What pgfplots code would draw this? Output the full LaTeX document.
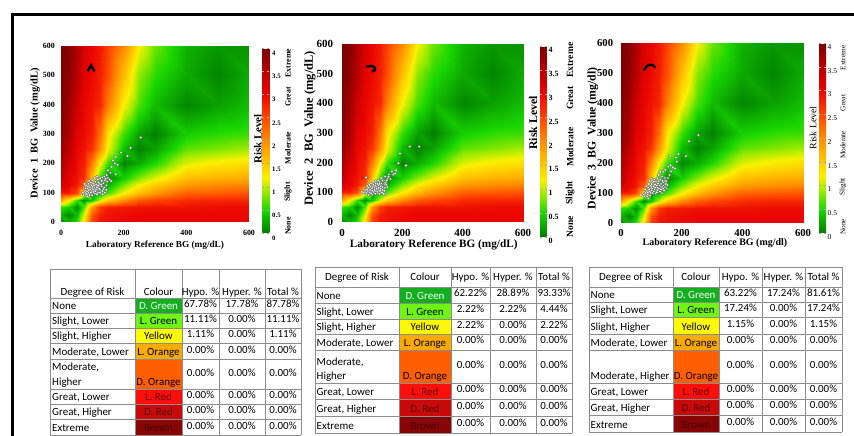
\documentclass[border=0pt]{standalone}
\usepackage{fontspec}
\setmainfont{Liberation Serif}
\newfontfamily\carl{Carlito}
\usepackage{pgfplots}
\usepackage{pgfplotstable}
\pgfplotsset{compat=1.18}

\definecolor{cDG}{RGB}{20,175,30}
\definecolor{cLG}{RGB}{110,245,20}
\definecolor{cY}{RGB}{255,250,0}
\definecolor{cLO}{RGB}{250,170,0}
\definecolor{cDO}{RGB}{255,95,0}
\definecolor{cLR}{RGB}{250,15,10}
\definecolor{cDR}{RGB}{200,10,10}
\definecolor{cBr}{RGB}{135,5,5}
\definecolor{gridc}{RGB}{140,140,140}

\pgfplotstableread[row sep=\\]{
x y r\\
0 0 0.10\\ 25 0 0.30\\ 50 0 0.55\\ 75 0 1.40\\ 100 0 2.60\\ 125 0 2.90\\ 150 0 2.95\\ 200 0 3.00\\ 250 0 3.00\\ 300 0 3.00\\ 400 0 3.00\\ 500 0 3.00\\ 600 0 3.00\\
0 25 0.30\\ 25 25 0.05\\ 50 25 0.35\\ 75 25 1.10\\ 100 25 2.40\\ 125 25 2.80\\ 150 25 2.90\\ 200 25 2.95\\ 250 25 3.00\\ 300 25 3.00\\ 400 25 3.00\\ 500 25 3.00\\ 600 25 3.00\\
0 50 0.60\\ 25 50 0.45\\ 50 50 0.05\\ 75 50 0.70\\ 100 50 1.90\\ 125 50 2.60\\ 150 50 2.80\\ 200 50 2.85\\ 250 50 2.90\\ 300 50 2.90\\ 400 50 2.90\\ 500 50 2.95\\ 600 50 2.95\\
0 75 1.80\\ 25 75 1.20\\ 50 75 0.60\\ 75 75 0.05\\ 100 75 0.40\\ 125 75 1.00\\ 150 75 1.50\\ 200 75 2.00\\ 250 75 2.35\\ 300 75 2.50\\ 400 75 2.70\\ 500 75 2.75\\ 600 75 2.75\\
0 100 2.80\\ 25 100 2.80\\ 50 100 2.50\\ 75 100 1.30\\ 100 100 0.05\\ 125 100 0.35\\ 150 100 0.65\\ 200 100 1.20\\ 250 100 1.60\\ 300 100 1.90\\ 400 100 2.30\\ 500 100 2.35\\ 600 100 2.40\\
0 125 3.20\\ 25 125 3.00\\ 50 125 2.85\\ 75 125 2.30\\ 100 125 0.90\\ 125 125 0.05\\ 150 125 0.30\\ 200 125 0.80\\ 250 125 1.20\\ 300 125 1.50\\ 400 125 1.90\\ 500 125 2.00\\ 600 125 2.05\\
0 150 3.45\\ 25 150 3.05\\ 50 150 2.90\\ 75 150 2.70\\ 100 150 1.60\\ 125 150 0.60\\ 150 150 0.05\\ 200 150 0.45\\ 250 150 0.80\\ 300 150 1.10\\ 400 150 1.60\\ 500 150 1.70\\ 600 150 1.75\\
0 200 3.60\\ 25 200 3.25\\ 50 200 2.95\\ 75 200 2.80\\ 100 200 2.10\\ 125 200 1.20\\ 150 200 0.60\\ 200 200 0.05\\ 250 200 0.25\\ 300 200 0.50\\ 400 200 1.10\\ 500 200 1.25\\ 600 200 1.35\\
0 250 3.75\\ 25 250 3.45\\ 50 250 3.00\\ 75 250 2.90\\ 100 250 2.65\\ 125 250 1.95\\ 150 250 1.15\\ 200 250 0.35\\ 250 250 0.02\\ 300 250 0.20\\ 400 250 0.70\\ 500 250 0.80\\ 600 250 0.90\\
0 300 3.85\\ 25 300 3.60\\ 50 300 3.10\\ 75 300 2.95\\ 100 300 2.80\\ 125 300 2.20\\ 150 300 1.30\\ 200 300 0.60\\ 250 300 0.20\\ 300 300 0.02\\ 400 300 0.45\\ 500 300 0.55\\ 600 300 0.60\\
0 400 3.95\\ 25 400 3.70\\ 50 400 3.30\\ 75 400 3.00\\ 100 400 2.90\\ 125 400 2.75\\ 150 400 2.10\\ 200 400 1.20\\ 250 400 0.65\\ 300 400 0.35\\ 400 400 0.05\\ 500 400 0.20\\ 600 400 0.35\\
0 500 4.00\\ 25 500 3.85\\ 50 500 3.50\\ 75 500 3.10\\ 100 500 2.95\\ 125 500 2.80\\ 150 500 2.45\\ 200 500 1.60\\ 250 500 0.85\\ 300 500 0.55\\ 400 500 0.25\\ 500 500 0.05\\ 600 500 0.25\\
0 600 4.00\\ 25 600 3.90\\ 50 600 3.60\\ 75 600 3.20\\ 100 600 3.00\\ 125 600 2.85\\ 150 600 2.55\\ 200 600 2.00\\ 250 600 1.20\\ 300 600 0.75\\ 400 600 0.30\\ 500 600 0.15\\ 600 600 0.12\\
}\segdata

\pgfplotsset{
  /pgf/number format/assume math mode=true,
  colorbar shift/.style={},
  colormap={segmap}{rgb255(0pt)=(0,125,0); rgb255(5pt)=(25,215,0); rgb255(9pt)=(160,235,0); rgb255(12pt)=(250,240,0); rgb255(16pt)=(255,190,0); rgb255(20pt)=(255,140,0); rgb255(25pt)=(255,70,0); rgb255(30pt)=(235,5,0); rgb255(35pt)=(185,0,0); rgb255(40pt)=(125,0,0)},
  seg/.style={
    scale only axis, anchor=south west,
    xmin=0, xmax=600, ymin=0, ymax=600,
    xtick={0,200,400,600}, ytick={0,100,...,600},
    major tick length=0pt,
    axis line style={draw=none},
    colormap name=segmap,
    point meta min=0, point meta max=4,
    colorbar,
    xticklabel style={anchor=center, inner sep=0pt},
    yticklabel style={anchor=east, inner sep=0pt},
    xlabel style={anchor=center},
    ylabel style={anchor=center},
  },
  cbar/.style={
    at={(parent axis.south east)}, anchor=south west,
    scale only axis,
    ytick={0,0.5,...,4},
    major tick length=2bp,
    tick style={draw=black!35, line width=0.3bp},
    axis line style={draw=none},
    yticklabel style={anchor=west, inner sep=0pt},
  },
  pts/.style={only marks, mark=*, mark size=1.45bp, mark options={fill=white, draw=black!60, line width=0.35bp}},
}

\tikzset{
  tl/.style={font=\carl\fontsize{11}{13}\selectfont, inner sep=0pt, anchor=base west},
  tc/.style={font=\carl\fontsize{11}{13}\selectfont, inner sep=0pt, anchor=base},
  tg/.style={draw=gridc, line width=0.8bp},
}
\newcommand\tL[3]{\node[tl] at (#1,#2) {#3};}
\newcommand\tC[3]{\node[tc] at (#1,#2) {#3};}
\newcommand\tK[4]{\node[tc, text=#3] at (#1,#2) {#4};}
\newcommand\nrow[4]{\tC{\ca}{#1}{#2}\tC{\cb}{#1}{#3}\tC{\cc}{#1}{#4}}

\begin{document}
\begin{tikzpicture}
\useasboundingbox (0,0) rectangle (854bp,436bp);
\fill[white] (0,0) rectangle (854bp,436bp);

% ---------- Panel 1 ----------
\begin{axis}[seg, at={(61bp,214bp)}, width=188bp, height=176bp,
  ticklabel style={font=\bfseries\fontsize{8}{9}\selectfont},
  xticklabel style={yshift=-11.3bp},
  yticklabel style={xshift=-6bp},
  xlabel={Laboratory Reference BG (mg/dL)},
  ylabel={Device\ \ 1\ \ BG\ \ Value (mg/dL)},
  xlabel style={at={(axis description cs:0.5,-0.1307)}, font=\bfseries\fontsize{9.3}{10}\selectfont},
  ylabel style={at={(axis description cs:-0.138,0.503)}, font=\bfseries\fontsize{10.5}{11}\selectfont},
  colorbar style={cbar, xshift=13.5bp, yshift=-11bp, width=7bp, height=185bp,
     yticklabel style={font=\bfseries\fontsize{6.8}{7}\selectfont, xshift=2.5bp, yshift=-5.5bp}},
]
\addplot[surf, shader=interp, mesh/cols=13, point meta=explicit] table[x=x, y=y, meta=r] {\segdata};
\addplot[pts] coordinates {(254,288) (222,253) (212,225) (191,237) (175,222) (172,200) (162,188) (175,163) (151,176) (181,195) (165,210) (158,168) (146,160) (138,155) (150,150) (132,152) (125,148) (140,142) (128,140) (118,145) (110,138) (135,132) (122,130) (112,128) (102,130) (95,135) (88,130) (130,122) (120,120) (108,118) (100,120) (92,118) (85,115) (80,108) (138,118) (145,125) (115,110) (105,108) (96,105) (88,100) (78,98) (72,92) (125,110) (132,105) (118,100) (108,97) (98,95) (90,92) (84,88) (140,100) (112,112) (102,112) (93,110) (86,122) (80,125) (75,130) (100,142) (108,150) (115,155) (120,135) (128,128) (136,112) (148,138) (155,145) (95,100) (103,103) (110,105) (118,125) (88,108) (82,95) (125,100) (130,140) (142,148) (100,90) (115,95) (90,140) (78,115) (83,103) (97,125) (106,125) (114,118) (122,113) (133,95) (145,110) (160,140) (70,100)};
\addplot[black, line width=2.4bp] coordinates {(85,514) (96,534) (107,514)};
\end{axis}

% ---------- Panel 2 ----------
\begin{axis}[seg, at={(342bp,214bp)}, width=181bp, height=178bp,
  ticklabel style={font=\bfseries\fontsize{11}{12}\selectfont},
  xticklabel style={yshift=-11.3bp},
  yticklabel style={xshift=-8.7bp},
  xlabel={Laboratory Reference BG (mg/dL)},
  ylabel={Device\ \ 2\ \ BG\ \ Value (mg/dL)},
  xlabel style={at={(axis description cs:0.507,-0.1253)}, font=\bfseries\fontsize{11.3}{12}\selectfont},
  ylabel style={at={(axis description cs:-0.177,0.526)}, font=\bfseries\fontsize{12.5}{13}\selectfont},
  colorbar style={cbar, xshift=17bp, yshift=-15bp, width=6.5bp, height=191bp,
     yticklabel style={font=\bfseries\fontsize{8}{9}\selectfont, xshift=2bp, yshift=-4bp}},
]
\addplot[surf, shader=interp, mesh/cols=13, point meta=explicit] table[x=x, y=y, meta=r] {\segdata};
\addplot[pts] coordinates {(256,254) (225,254) (192,231) (187,198) (212,190) (179,175) (176,164) (165,170) (154,153) (143,153) (80,150) (65,102) (143,93) (150,145) (138,140) (130,148) (125,135) (120,140) (112,130) (130,125) (122,122) (115,118) (108,115) (100,112) (92,110) (85,105) (80,98) (90,95) (98,100) (105,102) (112,105) (120,108) (128,112) (135,118) (140,128) (145,132) (132,100) (125,95) (118,98) (110,95) (100,92) (92,100) (86,115) (95,120) (104,125) (112,138) (118,128) (126,105) (135,108) (142,115) (138,95) (115,112) (108,108) (100,105) (93,108) (88,92) (78,108) (84,122) (96,130) (106,135) (122,115) (130,130) (150,118) (148,140) (160,145) (155,160) (170,160) (128,120) (134,140) (117,102) (102,118) (110,122) (75,100) (83,110) (97,96) (124,128) (140,105) (146,125) (90,125) (70,98)};
\addplot[black, line width=2.4bp] coordinates {(80,524) (100,526) (109,520) (109,512) (100,507)};
\end{axis}

% ---------- Panel 3 ----------
\begin{axis}[seg, at={(621bp,213bp)}, width=182bp, height=180bp,
  ticklabel style={font=\bfseries\fontsize{10.7}{11}\selectfont},
  xticklabel style={yshift=-10.3bp},
  yticklabel style={xshift=-7.7bp},
  xlabel={Laboratory Reference BG (mg/dl)},
  ylabel={Device\ \ 3\ \ BG\ \ Value (mg/dl)},
  xlabel style={at={(axis description cs:0.516,-0.1128)}, font=\bfseries\fontsize{10}{11}\selectfont},
  ylabel style={at={(axis description cs:-0.155,0.47)}, font=\bfseries\fontsize{11.8}{12}\selectfont},
  colorbar style={cbar, xshift=16bp, yshift=-10bp, width=7bp, height=190bp,
     yticklabel style={font=\fontsize{7.5}{8}\selectfont, xshift=1.5bp, yshift=-4bp}},
]
\addplot[surf, shader=interp, mesh/cols=13, point meta=explicit] table[x=x, y=y, meta=r] {\segdata};
\addplot[pts] coordinates {(255,293) (224,273) (214,223) (162,223) (189,230) (181,218) (184,204) (178,182) (163,193) (156,188) (146,177) (140,171) (153,127) (90,82) (66,93) (130,170) (125,160) (135,155) (145,150) (150,140) (120,150) (110,145) (100,148) (95,140) (105,135) (115,138) (125,140) (132,130) (140,135) (145,120) (138,115) (128,120) (118,125) (108,122) (98,125) (90,118) (85,110) (80,100) (88,95) (95,105) (102,110) (110,112) (120,110) (128,105) (135,100) (142,108) (115,98) (105,100) (96,92) (86,88) (78,90) (100,120) (112,128) (122,132) (130,145) (118,102) (92,130) (84,122) (108,105) (125,115) (137,140) (148,130) (160,160) (155,150) (170,185) (103,115) (113,118) (93,112) (80,112) (140,125) (132,112) (150,115) (75,95) (98,100) (120,118) (145,140) (165,172) (127,125) (108,138) (100,130) (88,102) (135,120)};
\addplot[black, line width=2.4bp, smooth] coordinates {(76,508) (82,520) (92,527) (103,527) (113,518)};
\end{axis}

\begin{scope}[x=1bp, y=-1bp, shift={(0,436bp)}]
% frame
\draw[line width=3bp] (12.5,440) -- (12.5,14.3) -- (860,14.3);

% colorbar texts
\node[rotate=90, inner sep=0pt, font=\bfseries\fontsize{11}{12}\selectfont] at (258,139) {Risk Level};
\begin{scope}[every node/.style={rotate=90, inner sep=0pt, font=\bfseries\fontsize{7.9}{8}\selectfont}]
\node at (288,226) {None}; \node at (288,192) {Slight}; \node at (288,148) {Moderate};
\node at (288,97) {Great}; \node at (288,63) {Extreme};
\end{scope}
\node[rotate=90, inner sep=0pt, font=\bfseries\fontsize{11.8}{12}\selectfont] at (533,123) {Risk Level};
\begin{scope}[every node/.style={rotate=90, inner sep=0pt, font=\bfseries\fontsize{9.6}{10}\selectfont}]
\node at (570,227) {None}; \node at (570,193) {Slight}; \node at (570,147) {Moderate};
\node at (570,98) {Great}; \node at (570,60) {Extreme};
\end{scope}
\node[rotate=90, inner sep=0pt, font=\fontsize{9.9}{10}\selectfont] at (813,128) {Risk Level};
\begin{scope}[every node/.style={rotate=90, inner sep=0pt, font=\fontsize{7.3}{8}\selectfont}]
\node at (843,227) {None}; \node at (843,187) {Slight}; \node at (843,145) {Moderate};
\node at (843,103) {Great}; \node at (843,58) {Extreme};
\end{scope}

% ---------- Table 1 ----------
\fill[cDG] (135,298) rectangle (182,313);
\fill[cLG] (135,313) rectangle (182,328);
\fill[cY]  (135,328) rectangle (182,343);
\fill[cLO] (135,343) rectangle (182,359);
\fill[cDO] (135,359) rectangle (182,389);
\fill[cLR] (135,389) rectangle (182,404);
\fill[cDR] (135,404) rectangle (182,419);
\fill[cBr] (135,419) rectangle (182,435);
\foreach \x in {50,135,182,219,265,301} \draw[tg] (\x,269) -- (\x,435);
\foreach \y in {269,298,313,328,343,359,389,404,419,435} \draw[tg] (50,\y) -- (301,\y);
\tC{92.5}{295.5}{Degree of Risk}\tC{158.5}{295.5}{Colour}\tC{200.5}{295.5}{Hypo. \%}\tC{242}{295.5}{Hyper. \%}\tC{283}{295.5}{Total \%}
\tL{52}{310}{None}\tL{52}{325}{Slight, Lower}\tL{52}{340}{Slight, Higher}\tL{52}{356}{Moderate, Lower}
\tL{52}{371}{Moderate,}\tL{52}{386}{Higher}\tL{52}{401}{Great, Lower}\tL{52}{416}{Great, Higher}\tL{52}{432}{Extreme}
\tK{158.5}{310}{white}{D. Green}\tK{158.5}{325}{black}{L. Green}\tK{158.5}{340}{black}{Yellow}\tK{158.5}{356}{black}{L. Orange}
\tK{158.5}{386}{black}{D. Orange}\tK{158.5}{401}{black!60!red}{L. Red}\tK{158.5}{416}{black!65!red}{D. Red}\tK{158.5}{432}{black!70!red}{Brown}
\def\ca{200.5}\def\cb{242}\def\cc{283}
\nrow{308}{67.78\%}{17.78\%}{87.78\%}
\nrow{323}{11.11\%}{0.00\%}{11.11\%}
\nrow{338}{1.11\%}{0.00\%}{1.11\%}
\nrow{353.5}{0.00\%}{0.00\%}{0.00\%}
\nrow{376.5}{0.00\%}{0.00\%}{0.00\%}
\nrow{399}{0.00\%}{0.00\%}{0.00\%}
\nrow{414}{0.00\%}{0.00\%}{0.00\%}
\nrow{429.5}{0.00\%}{0.00\%}{0.00\%}

% ---------- Table 2 ----------
\fill[cDG] (399,287) rectangle (451,303);
\fill[cLG] (399,303) rectangle (451,319);
\fill[cY]  (399,319) rectangle (451,334);
\fill[cLO] (399,334) rectangle (451,350);
\fill[cDO] (399,350) rectangle (451,383);
\fill[cLR] (399,383) rectangle (451,399);
\fill[cDR] (399,399) rectangle (451,416);
\fill[cBr] (399,416) rectangle (451,433);
\foreach \x in {315,399,451,490,536,572} \draw[tg] (\x,267) -- (\x,433);
\foreach \y in {267,287,303,319,334,350,383,399,416,433} \draw[tg] (315,\y) -- (572,\y);
\tC{357}{280.8}{Degree of Risk}\tC{425}{280.8}{Colour}\tC{470.5}{280.8}{Hypo. \%}\tC{513}{280.8}{Hyper. \%}\tC{554}{280.8}{Total \%}
\tL{316.5}{300}{None}\tL{316.5}{316}{Slight, Lower}\tL{316.5}{331}{Slight, Higher}\tL{316.5}{347}{Moderate, Lower}
\tL{316.5}{366}{Moderate,}\tL{316.5}{380}{Higher}\tL{316.5}{396}{Great, Lower}\tL{316.5}{413}{Great, Higher}\tL{316.5}{430}{Extreme}
\tK{425}{300}{white}{D. Green}\tK{425}{316}{black}{L. Green}\tK{425}{331}{black}{Yellow}\tK{425}{347}{black}{L. Orange}
\tK{425}{380}{black}{D. Orange}\tK{425}{396}{black!60!red}{L. Red}\tK{425}{413}{black!65!red}{D. Red}\tK{425}{430}{black!70!red}{Brown}
\def\ca{470.5}\def\cb{513}\def\cc{554}
\nrow{297}{62.22\%}{28.89\%}{93.33\%}
\nrow{313}{2.22\%}{2.22\%}{4.44\%}
\nrow{328.5}{2.22\%}{0.00\%}{2.22\%}
\nrow{344}{0.00\%}{0.00\%}{0.00\%}
\nrow{369}{0.00\%}{0.00\%}{0.00\%}
\nrow{393}{0.00\%}{0.00\%}{0.00\%}
\nrow{409.5}{0.00\%}{0.00\%}{0.00\%}
\nrow{426.5}{0.00\%}{0.00\%}{0.00\%}

% ---------- Table 3 ----------
\fill[cDG] (673,287) rectangle (719,302);
\fill[cLG] (673,302) rectangle (719,317);
\fill[cY]  (673,317) rectangle (719,334);
\fill[cLO] (673,334) rectangle (719,350);
\fill[cDO] (673,350) rectangle (719,383);
\fill[cLR] (673,383) rectangle (719,399);
\fill[cDR] (673,399) rectangle (719,415);
\fill[cBr] (673,415) rectangle (719,432);
\foreach \x in {589,673,719,762,805,842} \draw[tg] (\x,267) -- (\x,432);
\foreach \y in {267,287,302,317,334,350,383,399,415,432} \draw[tg] (589,\y) -- (842,\y);
\tC{631}{280.8}{Degree of Risk}\tC{696}{280.8}{Colour}\tC{740.5}{280.8}{Hypo. \%}\tC{783.5}{280.8}{Hyper. \%}\tC{823.5}{280.8}{Total \%}
\tL{590.5}{299}{None}\tL{590.5}{314}{Slight, Lower}\tL{590.5}{331}{Slight, Higher}\tL{590.5}{347}{Moderate, Lower}
\tL{590.5}{380}{Moderate, Higher}\tL{590.5}{396}{Great, Lower}\tL{590.5}{412}{Great, Higher}\tL{590.5}{429}{Extreme}
\tK{696}{299}{white}{D. Green}\tK{696}{314}{black}{L. Green}\tK{696}{331}{black}{Yellow}\tK{696}{347}{black}{L. Orange}
\tK{696}{380}{black}{D. Orange}\tK{696}{396}{black!60!red}{L. Red}\tK{696}{412}{black!65!red}{D. Red}\tK{696}{429}{black!70!red}{Brown}
\def\ca{740.5}\def\cb{783.5}\def\cc{823.5}
\nrow{296.5}{63.22\%}{17.24\%}{81.61\%}
\nrow{311.5}{17.24\%}{0.00\%}{17.24\%}
\nrow{327.5}{1.15\%}{0.00\%}{1.15\%}
\nrow{344}{0.00\%}{0.00\%}{0.00\%}
\nrow{368.5}{0.00\%}{0.00\%}{0.00\%}
\nrow{393}{0.00\%}{0.00\%}{0.00\%}
\nrow{409}{0.00\%}{0.00\%}{0.00\%}
\nrow{425.5}{0.00\%}{0.00\%}{0.00\%}
\end{scope}
\end{tikzpicture}
\end{document}
